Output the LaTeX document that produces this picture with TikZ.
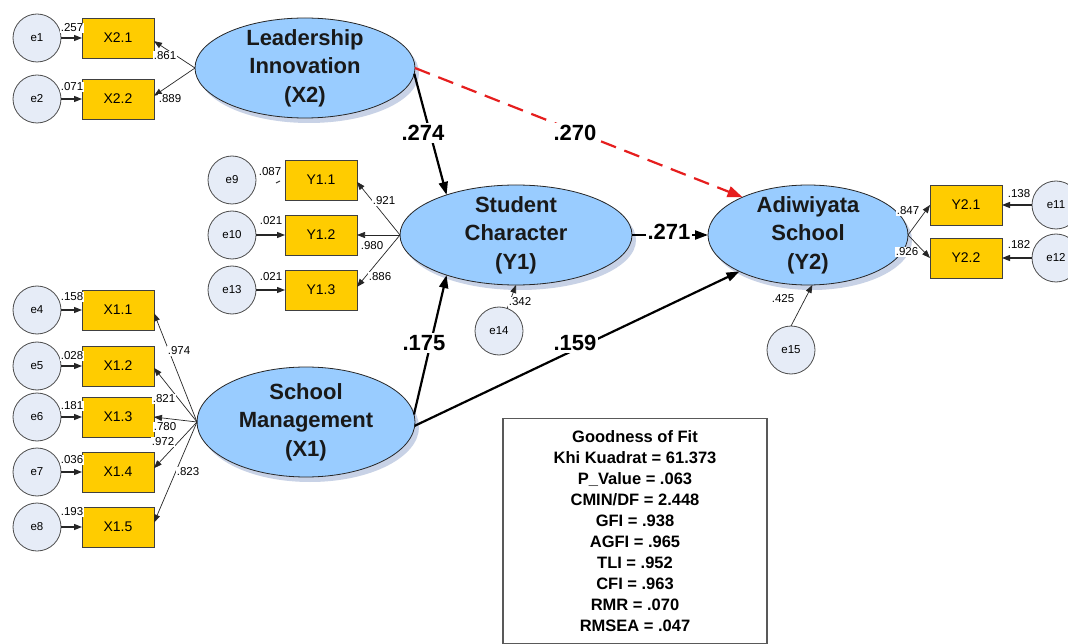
\documentclass[tikz,border=0pt]{standalone}
\usepackage{fontspec}
\setmainfont{Liberation Sans}
\usetikzlibrary{arrows.meta,shapes.geometric,shadows}
\definecolor{latfill}{RGB}{153,204,255}
\definecolor{obsfill}{RGB}{255,204,0}
\definecolor{errfill}{RGB}{230,236,247}
\definecolor{shadowc}{RGB}{200,210,230}
\definecolor{redpath}{RGB}{230,30,30}
\newcommand\latfont{\fontsize{22}{28.5}\selectfont\bfseries}
\newcommand\obsfont{\fontsize{14}{16}\selectfont}
\newcommand\errfont{\fontsize{11.5}{13}\selectfont}
\newcommand\smlfont{\fontsize{11.5}{13}\selectfont}
\newcommand\bigfont{\fontsize{22}{26}\selectfont\bfseries}
\newcommand\goffont{\fontsize{16.5}{21}\selectfont\bfseries}
\tikzset{
  latent/.style={ellipse, draw=black!85, line width=0.8pt, fill=latfill, inner sep=0pt, outer sep=0pt,
    drop shadow={shadow xshift=4pt, shadow yshift=-5pt, fill=shadowc, opacity=1}},
  lattext/.style={font=\latfont, align=center, inner sep=0pt, text=black!90},
  obs/.style={rectangle, draw=black!75, line width=0.8pt, fill=obsfill, minimum width=72pt, minimum height=40pt, inner sep=0pt, outer sep=0pt, font=\obsfont},
  err/.style={circle, draw=black!70, line width=0.8pt, fill=errfill, minimum size=48pt, inner sep=0pt, outer sep=0pt, font=\errfont},
  lbl/.style={font=\smlfont, inner sep=0.6pt, fill=white},
  plbl/.style={font=\bigfont, inner sep=2pt, fill=white},
  thinarrow/.style={line width=0.7pt, draw=black!85, -{Triangle[length=8pt,width=6pt]}},
  errarrow/.style={line width=1.2pt, draw=black!85, -{Triangle[length=8pt,width=6pt]}},
  structarrow/.style={line width=2.2pt, -{Triangle[length=13pt,width=9pt]}},
  redarrow/.style={line width=2.2pt, draw=redpath, dash pattern=on 16pt off 9pt, -{Triangle[length=15pt,width=11pt]}},
  gofbox/.style={draw=black!65, line width=1.2pt, fill=white, align=center, font=\goffont, minimum width=264pt, inner xsep=4pt, inner ysep=12pt}
}
\begin{document}
\begin{tikzpicture}[x=1pt,y=-1pt]
\useasboundingbox (0,0) rectangle (1068,644);
\clip (0,0) rectangle (1068,644);
\fill[white] (0,0) rectangle (1068,644);

% latent variables
\node[latent, minimum width=220pt, minimum height=100pt, label={[lattext]center:{Leadership\\Innovation\\(X2)}}] (X2) at (305,68) {};
\node[latent, minimum width=232pt, minimum height=100pt, label={[lattext]center:{Student\\Character\\(Y1)}}] (Y1) at (516,235) {};
\node[latent, minimum width=200pt, minimum height=100pt, label={[lattext]center:{Adiwiyata\\School\\(Y2)}}] (Y2) at (808,235) {};
\node[latent, minimum width=218pt, minimum height=110pt, label={[lattext]center:{School\\Management\\(X1)}}] (X1) at (306,422) {};

% observed variables
\node[obs] (X21) at (118,38) {X2.1};
\node[obs] (X22) at (118,99) {X2.2};
\node[obs] (Y11) at (321,180) {Y1.1};
\node[obs] (Y12) at (321,235) {Y1.2};
\node[obs] (Y13) at (321,290) {Y1.3};
\node[obs] (X11) at (118,310) {X1.1};
\node[obs] (X12) at (118,366) {X1.2};
\node[obs] (X13) at (118,417) {X1.3};
\node[obs] (X14) at (118,472) {X1.4};
\node[obs] (X15) at (118,527) {X1.5};
\node[obs] (Y21) at (966,205) {Y2.1};
\node[obs] (Y22) at (966,258) {Y2.2};

% error terms
\node[err] (e1) at (37,38) {e1};
\node[err] (e2) at (37,99) {e2};
\node[err] (e9) at (232,180) {e9};
\node[err] (e10) at (232,235) {e10};
\node[err] (e13) at (232,290) {e13};
\node[err] (e4) at (37,310) {e4};
\node[err] (e5) at (37,366) {e5};
\node[err] (e6) at (37,417) {e6};
\node[err] (e7) at (37,472) {e7};
\node[err] (e8) at (37,527) {e8};
\node[err] (e11) at (1056,205) {e11};
\node[err] (e12) at (1056,258) {e12};
\node[err] (e14) at (499,331) {e14};
\node[err] (e15) at (791,350) {e15};

% error arrows
\draw[errarrow] (e1) -- (X21);
\draw[errarrow] (e2) -- (X22);
\draw[errarrow] (e10) -- (Y12);
\draw[errarrow] (e13) -- (Y13);
\draw[errarrow] (e4) -- (X11);
\draw[errarrow] (e5) -- (X12);
\draw[errarrow] (e6) -- (X13);
\draw[errarrow] (e7) -- (X14);
\draw[errarrow] (e8) -- (X15);
\draw[errarrow] (e11) -- (Y21);
\draw[errarrow] (e12) -- (Y22);
\draw[thinarrow] (e14.70) -- (Y1.south);
\draw[thinarrow] (e15.north) -- (Y2.-85);
\draw[line width=0.9pt, black!80] ([shift={(-9,3)}]Y11.west) -- ([shift={(-5,1)}]Y11.west);

% loadings
\draw[thinarrow] (X2.west) -- (X21.-5);
\draw[thinarrow] (X2.west) -- (X22.5);
\draw[thinarrow] (Y1.west) -- (Y11.-3);
\draw[thinarrow] (Y1.west) -- (Y12.east);
\draw[thinarrow] (Y1.west) -- (Y13.5);
\draw[thinarrow] (X1.west) -- (X11.-5);
\draw[thinarrow] (X1.west) -- (X12.-3);
\draw[thinarrow] (X1.west) -- (X13.east);
\draw[thinarrow] (X1.west) -- (X14.6);
\draw[thinarrow] (X1.west) -- (X15.7);
\draw[thinarrow] (Y2.east) -- (Y21.west);
\draw[thinarrow] (Y2.east) -- (Y22.west);

% structural paths
\draw[structarrow] (X2.-3) -- (Y1.150);
\draw[redarrow] (X2.east) -- (Y2.150);
\draw[structarrow] (Y1.east) -- (Y2.west);
\draw[structarrow] (X1.4) -- (Y1.210);
\draw[structarrow] (X1.-2) -- (Y2.-152);

% small labels
\node[lbl] (l1) at (72,28) {.257};
\node[lbl] (l2) at (72,87) {.071};
\node[lbl] (l3) at (165,56) {.861};
\node[lbl] (l4) at (170,99) {.889};
\node[lbl] (l5) at (270,172) {.087};
\node[lbl] (l6) at (271,221) {.021};
\node[lbl] (l7) at (271,277) {.021};
\node[lbl] (l8) at (384,201) {.921};
\node[lbl] (l9) at (372,246) {.980};
\node[lbl] (l10) at (380,277) {.886};
\node[lbl] (l11) at (72,297) {.158};
\node[lbl] (l12) at (72,356) {.028};
\node[lbl] (l13) at (72,406) {.181};
\node[lbl] (l14) at (72,460) {.036};
\node[lbl] (l15) at (72,512) {.193};
\node[lbl] (l16) at (179,351) {.974};
\node[lbl] (l17) at (164,399) {.821};
\node[lbl] (l18) at (165,427) {.780};
\node[lbl] (l19) at (163,442) {.972};
\node[lbl] (l20) at (188,472) {.823};
\node[lbl] (l21) at (908,211) {.847};
\node[lbl] (l22) at (907,252) {.926};
\node[lbl] (l23) at (1019,194) {.138};
\node[lbl] (l24) at (1019,245) {.182};
\node[lbl] (l25) at (783,299) {.425};
\node[lbl] (l26) at (520,302) {.342};

% path labels
\node[plbl] (p1) at (423,133) {.274};
\node[plbl] (p2) at (575,133) {.270};
\node[plbl] (p3) at (669,232) {.271};
\node[plbl] (p4) at (424,343) {.175};
\node[plbl] (p5) at (575,343) {.159};

% goodness of fit
\node[gofbox, anchor=north] (gof) at (635,418) {Goodness of Fit\\Khi Kuadrat = 61.373\\P\_Value = .063\\CMIN/DF = 2.448\\GFI = .938\\AGFI = .965\\TLI = .952\\CFI = .963\\RMR = .070\\RMSEA = .047};
\end{tikzpicture}
\end{document}
